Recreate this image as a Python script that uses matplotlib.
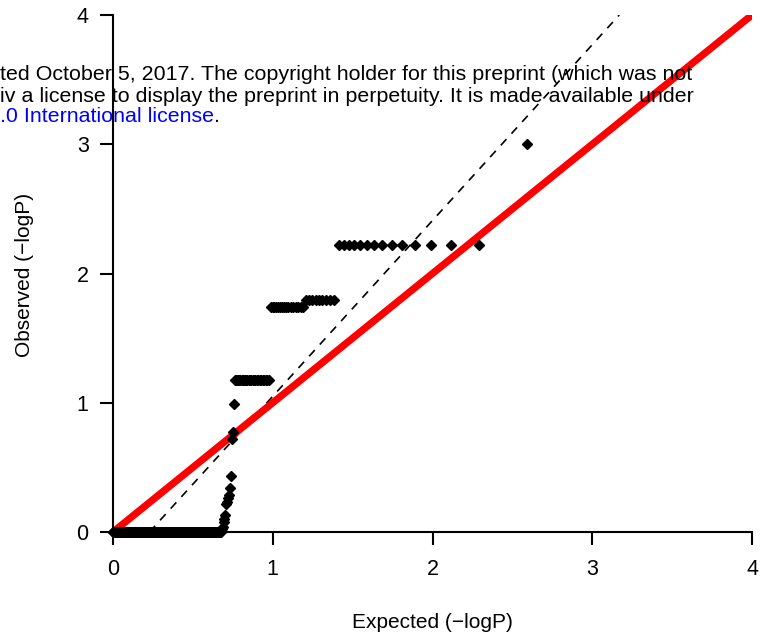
import numpy as np
import matplotlib.pyplot as plt

plt.rcParams['font.family'] = ['Liberation Sans', 'DejaVu Sans']

# observed -logP values (sorted, largest first) and how many tests share each value
obs_values = [3.0, 2.22, 1.795, 1.742, 1.175, 0.99, 0.776, 0.72, 0.43, 0.34,
              0.29, 0.26, 0.23, 0.22, 0.13, 0.10, 0.08, 0.04, 0.02, 0.0]
obs_counts = [1, 14, 9, 16, 27, 1, 1, 1, 1, 1,
              1, 1, 1, 1, 1, 1, 1, 1, 1, 307]

# fitted line drawn dashed (intercept, slope)
fit_intercept = -0.31
fit_slope = 1.36

ticks = [0, 1, 2, 3, 4]

header_lines = [
    "ted October 5, 2017. The copyright holder for this preprint (which was not",
    "iv a license to display the preprint in perpetuity. It is made available under",
]
header_link = ".0 International license"

# expand to one value per test and compute expected quantiles
observed = np.repeat(obs_values, obs_counts)
n = len(observed)
expected = -np.log10(np.arange(1, n + 1) / (n + 1))

fig = plt.figure(figsize=(7.71, 6.4), dpi=100)
ax = fig.add_axes([113 / 771, 108 / 640, 639 / 771, 517 / 640])

ax.plot([0, 4], [0, 4], color='red', lw=5.2, solid_capstyle='butt', zorder=3)
ax.axline((0, fit_intercept), slope=fit_slope, color='black', lw=1.2,
          linestyle=(0, (5, 4.5)), zorder=2)
ax.plot(expected, observed, linestyle='none', marker='D', markersize=5,
        color='black', clip_on=False, zorder=4)

ax.set_xlim(0, 4)
ax.set_ylim(0, 4)
ax.set_xticks(ticks)
ax.set_yticks(ticks)
for s in ['top', 'right']:
    ax.spines[s].set_visible(False)
for s in ['left', 'bottom']:
    ax.spines[s].set_linewidth(1.5)
ax.tick_params(direction='out', length=9.5, width=1.5, labelsize=15.5)
ax.tick_params(axis='x', pad=10)
ax.tick_params(axis='y', pad=8)

fig.text(432.5 / 771, 1 - 622 / 640, "Expected (\u2212logP)", ha='center',
         va='center', fontsize=15)
fig.text(25 / 771, 1 - 275 / 640, "Observed (\u2212logP)", ha='center',
         va='center', rotation=90, fontsize=15)

# preprint header overlay
for i, line in enumerate(header_lines):
    fig.text(0.5 / 771, 1 - (80 + 21.5 * i) / 640, line, ha='left',
             va='baseline', fontsize=15.4, color='black')
link = fig.text(0.5 / 771, 1 - 122.5 / 640, header_link, ha='left',
                va='baseline', fontsize=15.4, color='blue')
ax.annotate(".", xy=(1, 0), xycoords=link, ha='left', va='bottom',
            fontsize=15.4, color='black', annotation_clip=False)

fig.savefig('out.png', dpi=100)
